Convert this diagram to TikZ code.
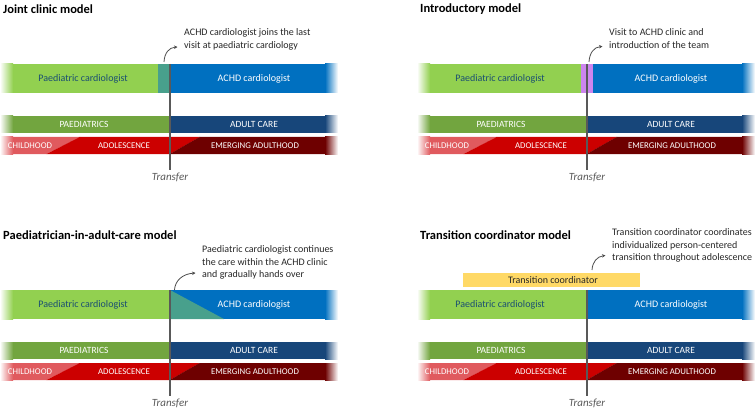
\documentclass[tikz,border=0pt]{standalone}
\usepackage{fontspec}
\setmainfont{Carlito}
\usetikzlibrary{arrows.meta}
\definecolor{pgreen}{HTML}{92D050}
\definecolor{pblue}{HTML}{0070C0}
\definecolor{cgreen}{HTML}{72A53F}
\definecolor{cnavy}{HTML}{17467A}
\definecolor{lred}{HTML}{E05A5E}
\definecolor{mred}{HTML}{CC0000}
\definecolor{dred}{HTML}{6E0000}
\definecolor{pteal}{HTML}{48A08C}
\definecolor{ppink}{HTML}{CC85EE}
\definecolor{pyellow}{HTML}{FFD966}
\definecolor{tgray}{HTML}{595959}
\definecolor{ttext}{HTML}{262626}
\definecolor{ptext}{HTML}{1B4F72}
\tikzset{
  titletxt/.style={anchor=west,inner sep=0pt,font=\fontsize{12.5}{14}\selectfont\bfseries,text=black},
  cardtxt/.style={inner sep=0pt,font=\fontsize{10}{12}\selectfont},
  caretxt/.style={inner sep=0pt,font=\fontsize{9.5}{11}\selectfont,text=white},
  agetxt/.style={inner sep=0pt,font=\fontsize{8.8}{10}\selectfont,text=white},
  annot/.style={anchor=north west,inner sep=0pt,align=left,text=ttext,font=\fontsize{10}{12.6}\selectfont},
  translbl/.style={inner sep=2pt,text=tgray,font=\fontsize{11}{13}\selectfont\itshape},
  tline/.style={draw=tgray,line width=1.8pt},
  arr/.style={draw=tgray!85!black,line width=0.8pt,-{Stealth[length=3.5pt,width=3.5pt]}},
}
% common lower bars, titles and transfer label
\newcommand\basepanel[2]{%
  \node[titletxt] (#1-title) at (3,9) {#2};
  % care bar
  \fill[cgreen] (12.5,116) rectangle (170.2,133);
  \fill[cnavy] (170,116) rectangle (325.5,133);
  \shade[left color=white,right color=cgreen] (0,116) rectangle (13,133);
  \shade[left color=cnavy,right color=white] (325,116) rectangle (338,133);
  \node[caretxt] (#1-paed) at (84,124.5) {PAEDIATRICS};
  \node[caretxt] (#1-adult) at (254,124.5) {ADULT CARE};
  % age bar
  \fill[lred] (12.5,137) -- (80,137) -- (47,154) -- (12.5,154) -- cycle;
  \fill[mred] (79.7,137) -- (200,137) -- (170,154) -- (46.7,154) -- cycle;
  \fill[dred] (199.7,137) -- (325.5,137) -- (325.5,154) -- (169.7,154) -- cycle;
  \shade[left color=white,right color=lred] (0,137) rectangle (13,154);
  \shade[left color=dred,right color=white] (325,137) rectangle (338,154);
  \node[agetxt] (#1-child) at (30,145.5) {CHILDHOOD};
  \node[agetxt] (#1-adol) at (124,145.5) {ADOLESCENCE};
  \node[agetxt] (#1-emerg) at (255,145.5) {EMERGING ADULTHOOD};
  % transfer label
  \node[translbl] (#1-tr) at (170,177) {Transfer};
}
% cardiologist bar: #1 = end of green, #2 = start of blue
\newcommand\cardbar[2]{%
  \fill[pgreen] (12.5,64) rectangle (#1,93);
  \fill[pblue] (#2,64) rectangle (325.5,93);
  \shade[left color=white,right color=pgreen] (0,64) rectangle (13,93);
  \shade[left color=pblue,right color=white] (325,64) rectangle (338,93);
}
\newcommand\cardtext[1]{%
  \node[cardtxt,text=ptext] (#1-pc) at (83,78.5) {Paediatric cardiologist};
  \node[cardtxt,text=white] (#1-ac) at (254,78.5) {ACHD cardiologist};
}
\newcommand\transferline[1]{%
  \coordinate (#1-ttop) at (170,64);
  \draw[tline] (#1-ttop) -- (#1-tr.north);
}
\begin{document}
\begin{tikzpicture}[x=1pt,y=-1pt]
\useasboundingbox (0,0) rectangle (756,412);
% ---------- Panel 1: Joint clinic model
\begin{scope}
  \basepanel{a}{Joint clinic model}
  \cardbar{158.2}{170}
  \fill[pteal] (158,64) rectangle (170.2,93);
  \cardtext{a}
  \transferline{a}
  \node[annot] (a-note) at (184,28.5) {ACHD cardiologist joins the last\\visit at paediatric cardiology};
  \coordinate (a-as) at (164,62);
  \coordinate (a-ae) at (177.5,47);
  \draw[arr] (a-as) .. controls (164.5,53) and (169,47.5) .. (a-ae);
\end{scope}
% ---------- Panel 2: Introductory model
\begin{scope}[shift={(417,0)}]
  \basepanel{b}{Introductory model}
  \cardbar{164.2}{176}
  \fill[ppink] (164,64) rectangle (176.2,93);
  \cardtext{b}
  \transferline{b}
  \node[annot] (b-note) at (192,28.5) {Visit to ACHD clinic and\\introduction of the team};
  \coordinate (b-as) at (172,62);
  \coordinate (b-ae) at (185.5,46.5);
  \draw[arr] (b-as) .. controls (172.5,53) and (177,47) .. (b-ae);
\end{scope}
% ---------- Panel 3: Paediatrician-in-adult-care model
\begin{scope}[shift={(0,226)}]
  \basepanel{c}{Paediatrician-in-adult-care model}
  \cardbar{170.2}{170}
  \fill[pteal] (170,64) -- (224,93) -- (170,93) -- cycle;
  \cardtext{c}
  \transferline{c}
  \node[annot] (c-note) at (202,19.5) {Paediatric cardiologist continues\\the care within the ACHD clinic\\and gradually hands over};
  \coordinate (c-as) at (174.5,64);
  \coordinate (c-ae) at (195.5,47);
  \draw[arr] (c-as) .. controls (175,55) and (182,48) .. (c-ae);
\end{scope}
% ---------- Panel 4: Transition coordinator model
\begin{scope}[shift={(417,226)}]
  \basepanel{d}{Transition coordinator model}
  \cardbar{170.2}{170}
  \cardtext{d}
  \fill[pyellow] (46,47) rectangle (223,61);
  \node[cardtxt,text=ttext] (d-tc) at (136,54) {Transition coordinator};
  \transferline{d}
  \node[annot] (d-note) at (195,2.5) {Transition coordinator coordinates\\individualized person-centered\\transition throughout adolescence};
  \coordinate (d-as) at (175,44);
  \coordinate (d-ae) at (188.5,29.5);
  \draw[arr] (d-as) .. controls (175.5,36) and (180,30.5) .. (d-ae);
\end{scope}
\end{tikzpicture}
\end{document}
